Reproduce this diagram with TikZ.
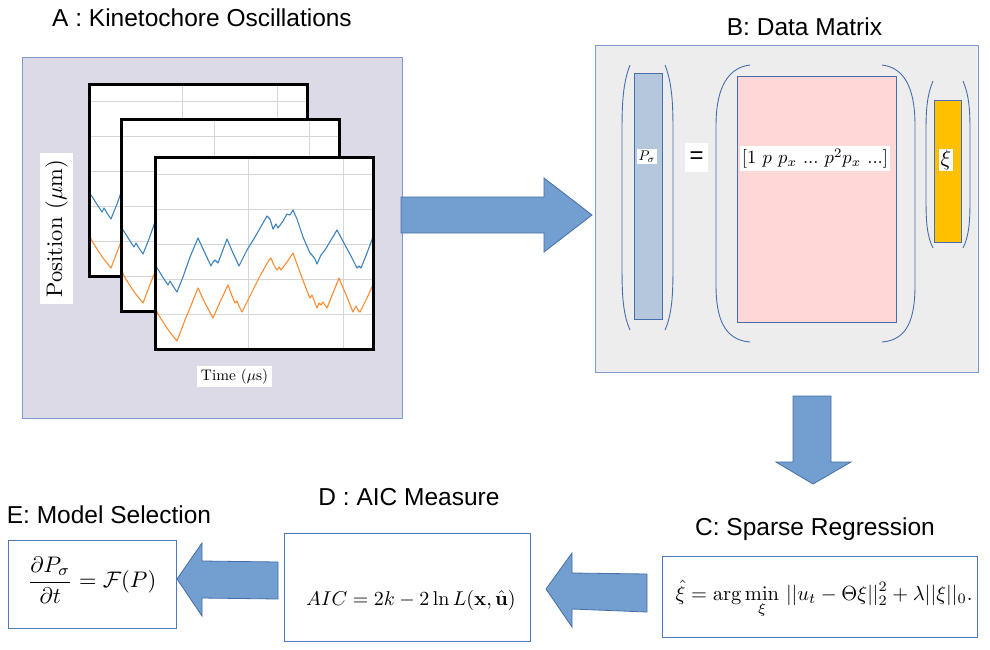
\documentclass[tikz,border=0pt]{standalone}
\usepackage{amsmath}
\usepackage[no-math]{fontspec}
\newfontfamily\titlefont{Liberation Sans}
\definecolor{panelAc}{RGB}{220,218,230}
\definecolor{panelBc}{RGB}{237,237,237}
\definecolor{bordc}{RGB}{125,155,205}
\definecolor{parenc}{RGB}{70,110,175}
\definecolor{pcol}{RGB}{180,199,220}
\definecolor{pinkc}{RGB}{255,215,215}
\definecolor{goldc}{RGB}{255,192,0}
\definecolor{arrfill}{RGB}{114,159,207}
\definecolor{arrdraw}{RGB}{70,110,170}
\definecolor{gridc}{RGB}{214,214,214}
\definecolor{curveblue}{RGB}{60,130,190}
\definecolor{curveorange}{RGB}{250,140,50}
\definecolor{boxc}{RGB}{80,120,190}
\newcommand{\kplot}[2]{%
\begin{scope}[shift={(#1,#2)}]
  \fill[white] (0,0) rectangle (218,192);
  \begin{scope}
    \clip (0,0) rectangle (218,192);
    \draw[gridc, line width=0.8pt] (93,0) -- (93,192) (188,0) -- (188,192);
    \foreach \yy in {17,52,87,122,157} \draw[gridc, line width=0.8pt] (0,\yy) -- (218,\yy);
    \draw[curveblue, line width=1.1pt, line join=round] plot coordinates {(0,108) (4,114) (9,122) (13,128) (15,124) (18,129) (22,135) (28,120) (35,100) (43,81) (49,94) (56,109) (58,105) (60,103) (63,106) (72,82) (78,96) (84,109) (92,93) (100,80) (112,59) (115,62) (118,72) (121,67) (123,71) (128,64) (132,57) (135,58) (138,53) (142,62) (148,80) (155,96) (157,98) (160,102) (162,107) (166,98) (170,93) (176,83) (182,73) (190,88) (197,101) (202,111) (204,109) (206,111) (212,96) (218,80)};
    \draw[curveorange, line width=1.1pt, line join=round] plot coordinates {(0,150) (3,157) (8,165) (14,174) (22,184) (30,163) (37,146) (43,131) (50,146) (58,161) (65,145) (73,128) (77,139) (80,146) (82,144) (84,149) (87,155) (95,139) (105,119) (114,103) (116,101) (118,106) (120,110) (122,113) (124,110) (126,113) (132,105) (138,96) (146,118) (152,134) (155,141) (157,138) (160,146) (162,151) (164,146) (166,148) (168,145) (172,151) (178,136) (184,121) (186,126) (192,140) (198,155) (201,149) (203,153) (205,155) (212,141) (218,128)};
  \end{scope}
  \draw[black, line width=3pt] (0,0) rectangle (218,192);
\end{scope}}
\begin{document}
\begin{tikzpicture}[x=1pt,y=-1pt,
  title/.style={font=\titlefont\fontsize{24.5}{28}\selectfont, inner sep=0pt, anchor=base},
  panel/.style={draw=bordc, line width=1pt, inner sep=0pt},
  colbox/.style={draw=parenc, line width=1pt, inner sep=0pt},
  paren/.style={draw=parenc, line width=0.9pt},
  whitelab/.style={fill=white},
  fbox/.style={draw=boxc, line width=1pt, inner sep=0pt},
  blockarrow/.style={fill=arrfill, draw=arrdraw, line width=0.8pt, line join=miter}]
\useasboundingbox[fill=white] (0,0) rectangle (990,649);

% ---- titles
\node[title] (tA) at (202,26) {A : Kinetochore Oscillations};
\node[title] (tB) at (804.5,35) {B: Data Matrix};
\node[title] (tC) at (815,535) {C: Sparse Regression};
\node[title] (tD) at (409,505) {D : AIC Measure};
\node[title] (tE) at (109,523) {E: Model Selection};

% ---- panel A
\node[panel, fill=panelAc, minimum width=380pt, minimum height=361pt] (panA) at (212,237.5) {};
\kplot{89}{84}
\kplot{121}{119}
\kplot{155}{157}
\node[fill=white, rotate=90, scale=2.25, inner xsep=3.1pt, inner ysep=2.2pt] (ylab) at (56.5,228.5) {Position ($\mu$m)};
\node[fill=white, scale=1.53, inner xsep=2.6pt, inner ysep=2pt] (xlab) at (234.5,376.5) {Time ($\mu$s)};

% ---- panel B
\node[panel, fill=panelBc, minimum width=383pt, minimum height=327pt] (panB) at (786.5,208.5) {};
\node[colbox, fill=pcol, minimum width=28pt, minimum height=246pt] (Pcol) at (648,196) {};
\node[colbox, fill=pinkc, minimum width=159pt, minimum height=246pt] (Theta) at (816.5,199) {};
\node[colbox, fill=goldc, minimum width=27pt, minimum height=142pt] (Xi) at (947.5,171) {};
% parentheses
\draw[paren] (630,65) .. controls (622,85) and (622,110) .. (622,135) -- (622,260) .. controls (622,290) and (622,312) .. (630,330);
\draw[paren] (665,65) .. controls (673,85) and (673,110) .. (673,135) -- (673,260) .. controls (673,290) and (673,312) .. (665,330);
\draw[paren] (750,65) .. controls (724,68) and (716,95) .. (716,125) -- (716,285) .. controls (716,318) and (724,340) .. (750,342);
\draw[paren] (882,65) .. controls (908,68) and (915,95) .. (915,125) -- (915,285) .. controls (915,318) and (908,340) .. (882,342);
\draw[paren] (933,81) .. controls (927,95) and (926,110) .. (926,130) -- (926,200) .. controls (926,222) and (927,236) .. (933,248);
\draw[paren] (963,81) .. controls (969,95) and (970,110) .. (970,130) -- (970,200) .. controls (970,222) and (969,236) .. (963,248);
\node[whitelab, scale=1.4, inner sep=1pt] (Plab) at (647,156.5) {$P_\sigma$};
\node[fill=white, inner sep=0pt, minimum width=23pt, minimum height=29pt, font=\titlefont\fontsize{24}{28}\selectfont] (eq) at (696.5,157.5) {=};
\node[whitelab, scale=1.86, inner xsep=1pt, inner ysep=1.5pt] (Thlab) at (815,158.5) {$[1\ p\ p_x\ ...\ p^2p_x\ ...]$};
\node[whitelab, scale=2.2, inner sep=0.7pt] (Xilab) at (946,160) {$\xi$};

% ---- formula boxes
\node[fbox, minimum width=315pt, minimum height=81pt] (boxC) at (819.5,596.5) {};
\node[fbox, minimum width=246pt, minimum height=108pt] (boxD) at (407,587) {};
\node[fbox, minimum width=168pt, minimum height=88pt] (boxE) at (92,584) {};
\node[inner sep=0pt, anchor=base, scale=2.05] (fC) at (824,600) {$\displaystyle \hat{\xi} = \arg\min_{\xi}\, ||u_t - \Theta\xi||_2^2 + \lambda||\xi||_0.$};
\node[inner sep=0pt, anchor=base, scale=2.0] (fD) at (411,605) {$AIC = 2k - 2\ln L(\mathbf{x},\hat{\mathbf{u}})$};
\node[inner sep=0pt, scale=2.25] (fE) at (92,580) {$\displaystyle\frac{\partial P_\sigma}{\partial t} = \mathcal{F}(P)$};

% ---- block arrows
\draw[blockarrow] (401,197) -- (544,197) -- (544,178) -- (592,215) -- (544,252) -- (544,233) -- (401,233) -- cycle;
\draw[blockarrow] (793,396) -- (831,396) -- (831,462) -- (851,462) -- (813,484) -- (776,462) -- (793,462) -- cycle;
\draw[blockarrow] (647,574) -- (572,573) -- (572,553) -- (546,589) -- (572,627) -- (572,609) -- (647,612) -- cycle;
\draw[blockarrow] (278,562) -- (202,561) -- (202,543) -- (177,579) -- (202,616) -- (202,598) -- (278,599) -- cycle;
\end{tikzpicture}
\end{document}
